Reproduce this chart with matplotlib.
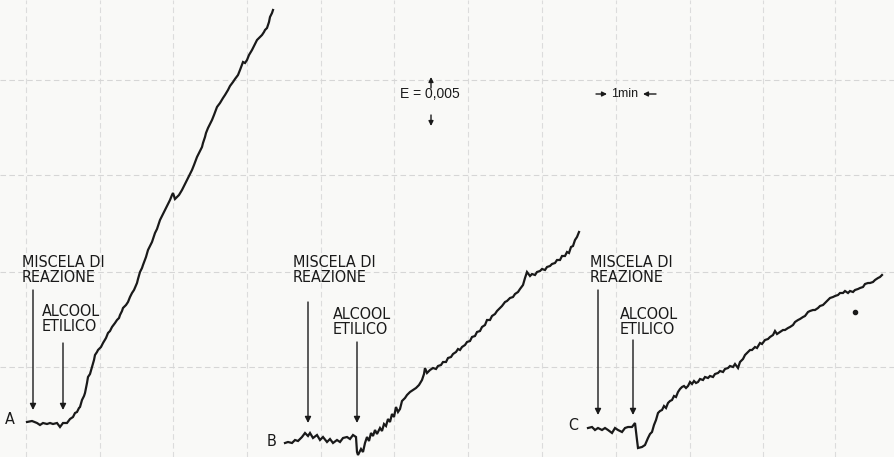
import matplotlib
matplotlib.use("Agg")
import matplotlib.pyplot as plt

# traces (x, y in chart units, y grows downwards)
a_x = [27, 32, 37, 40, 43, 47, 50, 53, 57, 60, 63, 67, 70, 73, 75, 77, 79, 80,
       82, 84, 85, 87, 88, 90, 92, 94, 95, 97, 98, 101, 103, 106, 108, 110,
       112, 115, 117, 119, 120, 122, 123, 126, 128, 130, 132, 134, 137, 138,
       140, 142, 143, 146, 148, 150, 152, 155, 157, 160, 162, 165, 167, 170,
       172, 173, 175, 177, 179, 182, 184, 187, 189, 192, 194, 197, 199, 202,
       203, 205, 206, 208, 210, 212, 214, 217, 220, 223, 225, 228, 230, 233,
       235, 238, 240, 243, 245, 247, 249, 252, 254, 257, 259, 262, 264, 265,
       267, 268, 269, 270, 272, 273]
a_y = [422, 421, 423, 425, 423, 424, 423, 424, 423, 427, 423, 423, 419, 417,
       413, 412, 408, 407, 400, 396, 393, 383, 377, 374, 367, 360, 355, 352,
       350, 347, 343, 338, 333, 331, 327, 323, 320, 318, 315, 311, 308, 305,
       302, 297, 293, 290, 283, 279, 272, 268, 265, 257, 250, 246, 242, 233,
       229, 220, 216, 210, 206, 200, 195, 193, 199, 197, 195, 190, 186, 180,
       176, 170, 165, 157, 153, 147, 143, 137, 133, 128, 124, 120, 115, 107,
       103, 98, 95, 90, 86, 82, 79, 75, 70, 62, 63, 60, 55, 50, 46, 40, 38,
       35, 32, 30, 28, 25, 22, 17, 13, 10]

b_x = [285, 288, 292, 295, 298, 302, 305, 308, 310, 313, 317, 320, 323, 327,
       330, 333, 337, 340, 343, 347, 350, 353, 356, 357, 358, 361, 363, 365,
       367, 369, 371, 373, 375, 377, 380, 382, 384, 386, 388, 390, 392, 394,
       396, 398, 400, 402, 405, 407, 410, 413, 416, 419, 422, 424, 425, 427,
       430, 433, 436, 438, 441, 443, 446, 448, 451, 453, 456, 458, 460, 462,
       465, 467, 470, 472, 475, 477, 480, 482, 485, 487, 490, 492, 495, 497,
       500, 502, 505, 507, 510, 513, 515, 518, 520, 523, 525, 527, 530, 532,
       535, 537, 540, 542, 545, 547, 550, 552, 555, 557, 560, 562, 565, 567,
       569, 571, 573, 575, 577, 579]
b_y = [443, 442, 443, 440, 441, 437, 433, 436, 433, 438, 435, 440, 437, 442,
       439, 443, 440, 442, 438, 437, 439, 435, 437, 452, 455, 449, 452, 443,
       437, 441, 433, 436, 430, 434, 428, 431, 424, 426, 419, 422, 414, 417,
       407, 412, 409, 401, 398, 395, 392, 390, 388, 385, 380, 374, 368, 373,
       370, 368, 369, 366, 365, 362, 362, 358, 357, 354, 352, 349, 350, 347,
       345, 342, 341, 337, 336, 332, 331, 327, 325, 320, 320, 316, 314, 311,
       308, 306, 302, 301, 298, 297, 294, 292, 289, 285, 278, 272, 276, 274,
       275, 272, 271, 269, 270, 267, 266, 264, 263, 260, 260, 256, 256, 252,
       253, 247, 246, 240, 237, 232]

c_x = [588, 592, 595, 598, 602, 605, 608, 612, 615, 618, 622, 625, 628, 632,
       635, 637, 638, 642, 645, 648, 650, 652, 654, 656, 658, 660, 662, 664,
       666, 668, 670, 672, 674, 676, 678, 680, 682, 684, 686, 688, 690, 692,
       694, 696, 698, 700, 703, 705, 708, 710, 713, 715, 718, 720, 723, 725,
       728, 730, 733, 735, 738, 740, 743, 745, 747, 750, 752, 755, 757, 760,
       762, 765, 768, 770, 773, 775, 777, 780, 783, 785, 788, 790, 793, 795,
       798, 800, 803, 805, 808, 810, 813, 815, 818, 820, 823, 825, 828, 830,
       833, 835, 838, 840, 843, 845, 848, 850, 853, 855, 858, 860, 863, 865,
       868, 870, 873, 875, 878, 880, 882]
c_y = [428, 427, 430, 428, 430, 428, 430, 433, 428, 430, 432, 428, 427, 427,
       423, 440, 448, 447, 445, 438, 434, 432, 425, 420, 413, 411, 410, 406,
       408, 403, 401, 400, 396, 397, 392, 389, 387, 386, 388, 386, 382, 384,
       381, 383, 382, 379, 380, 377, 378, 376, 377, 374, 373, 371, 372, 369,
       368, 366, 367, 364, 368, 362, 359, 355, 353, 350, 350, 347, 348, 343,
       344, 340, 339, 337, 335, 331, 334, 332, 330, 330, 328, 327, 325, 322,
       320, 319, 317, 316, 312, 311, 310, 310, 308, 306, 305, 303, 300, 298,
       297, 296, 295, 293, 293, 291, 293, 291, 292, 290, 289, 288, 287, 284,
       283, 283, 282, 280, 278, 277, 275]

trace_names = ["A", "B", "C"]
name_pos = [(10, 420), (272, 441), (573, 425)]

# event arrows: x of arrow, top of shaft, tip
mix_arrows = [(33, 290, 410), (308, 302, 423), (598, 290, 415)]
alc_arrows = [(63, 343, 410), (357, 342, 423), (633, 340, 415)]
mix_text = [(22, 270), (293, 270), (590, 270)]
alc_text = [(42, 319), (333, 322), (620, 322)]

grid_x = [26, 100, 173, 247, 321, 394, 468, 542, 616, 690, 763, 835]
grid_y = [80, 175, 272, 367]

label_font = ["DejaVu Sans"]

fig = plt.figure(figsize=(8.95, 4.57), dpi=100)
fig.patch.set_facecolor("#f9f9f7")
ax = fig.add_axes([0, 0, 1, 1])
ax.set_facecolor("#f9f9f7")
ax.set_xlim(0, 895)
ax.set_ylim(457, 0)
ax.axis("off")

for gx in grid_x:
    ax.axvline(gx, color="#dcdcdc", lw=0.8, ls=(0, (5, 3)), zorder=0)
for gy in grid_y:
    ax.axhline(gy, color="#d6d6d6", lw=0.8, ls=(0, (5, 3)), zorder=0)

for xs, ys in [(a_x, a_y), (b_x, b_y), (c_x, c_y)]:
    ax.plot(xs, ys, color="#1a1a1a", lw=1.6, solid_joinstyle="miter")

for name, (nx, ny) in zip(trace_names, name_pos):
    ax.text(nx, ny, name, ha="center", va="center", fontsize=11.5,
            family=label_font, fontstretch="condensed", color="#1a1a1a")

arrow_style = dict(arrowstyle="-|>", color="#1a1a1a", lw=1.0,
                   mutation_scale=9, shrinkA=0, shrinkB=0)
for (x, y0, y1) in mix_arrows + alc_arrows:
    ax.annotate("", xy=(x, y1), xytext=(x, y0), arrowprops=arrow_style)

for (tx, ty) in mix_text:
    ax.text(tx, ty, "MISCELA DI\nREAZIONE", ha="left", va="center",
            fontsize=11.5, family=label_font, fontstretch="condensed",
            linespacing=1.0, color="#1a1a1a")
for (tx, ty) in alc_text:
    ax.text(tx, ty, "ALCOOL\nETILICO", ha="left", va="center",
            fontsize=11.5, family=label_font, fontstretch="condensed",
            linespacing=1.0, color="#1a1a1a")

# scale marks
ax.text(430, 94, "E = 0,005", ha="center", va="center", fontsize=10,
        family=["Liberation Sans", "DejaVu Sans"], color="#1a1a1a")
small = dict(arrowstyle="-|>", color="#1a1a1a", lw=1.0, mutation_scale=7,
             shrinkA=0, shrinkB=0)
ax.annotate("", xy=(431, 77), xytext=(431, 88), arrowprops=small)
ax.annotate("", xy=(431, 126), xytext=(431, 115), arrowprops=small)

ax.text(625, 94, "1min", ha="center", va="center", fontsize=9,
        family=["Liberation Sans", "DejaVu Sans"], color="#1a1a1a")
ax.annotate("", xy=(607, 94), xytext=(596, 94), arrowprops=small)
ax.annotate("", xy=(643, 94), xytext=(656, 94), arrowprops=small)

ax.plot([855], [312], "o", color="#1a1a1a", ms=3)

fig.savefig("out.png", dpi=100, facecolor=fig.get_facecolor())
